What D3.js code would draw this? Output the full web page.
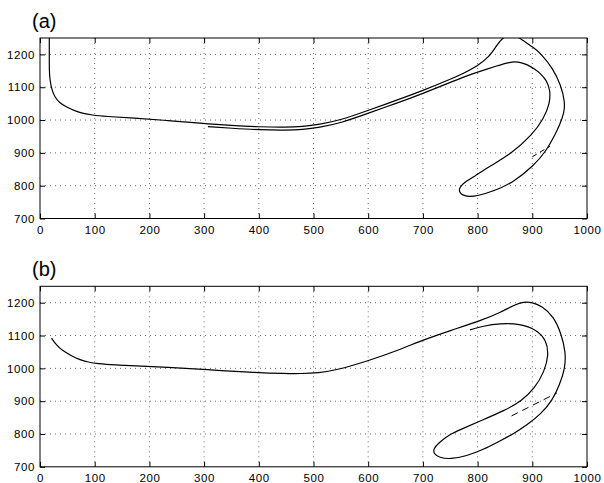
<!DOCTYPE html>
<html>
<head>
<meta charset="utf-8">
<script src="https://cdn.jsdelivr.net/npm/d3@7"></script>
<style>
  body { margin: 0; background: #fff; }
  svg { display: block; }
</style>
</head>
<body>
<svg id="chart" width="604" height="483"></svg>
<script>
// axis values
const xTicks = [0, 100, 200, 300, 400, 500, 600, 700, 800, 900, 1000];
const yTicks = [700, 800, 900, 1000, 1100, 1200];
const xDomain = [0, 1000];
const yDomain = [700, 1250];
const panelLabels = ["(a)", "(b)"];

// (a) trajectory
const trackA = [
  [17, 1270], [17, 1250], [17, 1200], [17, 1150], [18, 1125], [21, 1095], [27, 1070],
  [36, 1052], [49, 1039], [62, 1029], [77, 1021], [95, 1015], [120, 1011], [171, 1006],
  [232, 999], [293, 990], [350, 983], [402, 979], [450, 978], [480, 980], [510, 986],
  [550, 1000], [597, 1028], [650, 1059], [700, 1090], [743, 1119], [774, 1142],
  [800, 1165], [820, 1191], [832, 1220], [844, 1248], [856, 1260], [870, 1258],
  [884, 1241], [902, 1221], [914, 1206], [938, 1157], [952, 1107], [960, 1055],
  [958, 1020], [950, 985], [940, 950], [925, 905], [902, 860], [865, 810], [829, 783],
  [800, 769], [784, 766], [772, 771], [766, 782], [767, 795], [776, 810], [792, 826],
  [823, 860], [862, 898], [900, 955], [921, 1005], [932, 1050], [933, 1090],
  [926, 1122], [914, 1143], [905, 1155], [890, 1170], [874, 1178], [859, 1177],
  [835, 1165], [800, 1146], [774, 1131], [743, 1110], [700, 1081], [650, 1050],
  [597, 1019], [550, 991], [510, 977], [480, 971], [450, 969], [402, 970], [350, 975],
  [307, 980]
];
const dashA = [[900, 888], [932, 920]];

// (b) trajectory
const trackB = [
  [21, 1092], [25, 1082], [30, 1072], [38, 1058], [49, 1047], [60, 1036], [73, 1026],
  [88, 1019], [104, 1014], [140, 1010], [171, 1008], [232, 1003], [305, 996],
  [384, 988], [451, 984], [475, 984], [510, 986], [540, 994], [597, 1021], [658, 1057],
  [701, 1087], [750, 1115], [810, 1148], [841, 1170], [868, 1194], [884, 1203],
  [900, 1201], [918, 1189], [939, 1158], [953, 1105], [961, 1050], [960, 1000],
  [950, 950], [936, 900], [915, 860], [890, 827], [865, 800], [841, 779], [810, 752],
  [780, 733], [750, 723], [730, 728], [720, 740], [719, 754], [728, 772], [748, 798],
  [768, 813], [804, 839], [850, 872], [880, 900], [905, 940], [922, 990],
  [930, 1040], [926, 1085], [908, 1118], [877, 1136], [841, 1137], [810, 1129], [786, 1117]
];
const dashB = [[862, 855], [945, 925]];

// layout
const W = 604, H = 483;
const left = 40, plotW = 547, plotH = 180.5;
const panelTops = [38, 286.3];
const tickFont = "'Liberation Sans', Arial, Helvetica, sans-serif";

const svg = d3.select("#chart");

const x = d3.scaleLinear().domain(xDomain).range([left, left + plotW]);

[[trackA, dashA], [trackB, dashB]].forEach(([track, dash], i) => {
  const top = panelTops[i];
  const y = d3.scaleLinear().domain(yDomain).range([top + plotH, top]);
  const g = svg.append("g");

  // clip to the plotting box
  g.append("clipPath").attr("id", "clip" + i)
    .append("rect").attr("x", left).attr("y", top).attr("width", plotW).attr("height", plotH);

  // dotted grid
  g.selectAll(".vgrid").data(xTicks.filter(d => d > xDomain[0] && d < xDomain[1]))
    .enter().append("line")
    .attr("x1", d => x(d)).attr("x2", d => x(d))
    .attr("y1", top).attr("y2", top + plotH)
    .attr("stroke", "#444").attr("stroke-width", 0.8).attr("stroke-dasharray", "1,4");
  g.selectAll(".hgrid").data(yTicks.filter(d => d > yDomain[0] && d < yDomain[1]))
    .enter().append("line")
    .attr("x1", left).attr("x2", left + plotW)
    .attr("y1", d => y(d)).attr("y2", d => y(d))
    .attr("stroke", "#444").attr("stroke-width", 0.8).attr("stroke-dasharray", "1,4");

  // curves
  const line = d3.line().x(d => x(d[0])).y(d => y(d[1])).curve(d3.curveBasis);
  g.append("path").datum(track)
    .attr("clip-path", `url(#clip${i})`)
    .attr("d", line).attr("fill", "none").attr("stroke", "#000").attr("stroke-width", 1.2);
  g.append("path").datum(dash)
    .attr("d", d3.line().x(d => x(d[0])).y(d => y(d[1])))
    .attr("fill", "none").attr("stroke", "#000").attr("stroke-width", 1)
    .attr("stroke-dasharray", i === 0 ? "5,4" : "7,5");

  // axes, ticks pointing inward like matlab
  const styleAxis = sel => {
    sel.select(".domain").remove();
    sel.selectAll("line").attr("stroke", "#000");
    sel.selectAll("text").attr("font-family", tickFont).attr("font-size", 11.5)
      .attr("letter-spacing", 0.6).attr("fill", "#000");
  };
  g.append("g").attr("transform", `translate(0,${top + plotH})`)
    .call(d3.axisBottom(x).tickValues(xTicks).tickSize(-5).tickPadding(7).tickFormat(d3.format("d")))
    .call(styleAxis);
  g.append("g").attr("transform", `translate(0,${top})`)
    .call(d3.axisTop(x).tickValues(xTicks).tickSize(-5).tickFormat(""))
    .call(styleAxis);
  g.append("g").attr("transform", `translate(${left},0)`)
    .call(d3.axisLeft(y).tickValues(yTicks).tickSize(-5).tickPadding(5).tickFormat(d3.format("d")))
    .call(styleAxis);
  g.append("g").attr("transform", `translate(${left + plotW},0)`)
    .call(d3.axisRight(y).tickValues(yTicks).tickSize(-5).tickFormat(""))
    .call(styleAxis);

  // frame
  g.append("rect").attr("x", left).attr("y", top).attr("width", plotW).attr("height", plotH)
    .attr("fill", "none").attr("stroke", "#000").attr("stroke-width", 1);

  // panel label
  svg.append("text").attr("x", 32).attr("y", top - 10)
    .attr("font-family", tickFont).attr("font-size", 20).attr("fill", "#000")
    .text(panelLabels[i]);
});
</script>
</body>
</html>
